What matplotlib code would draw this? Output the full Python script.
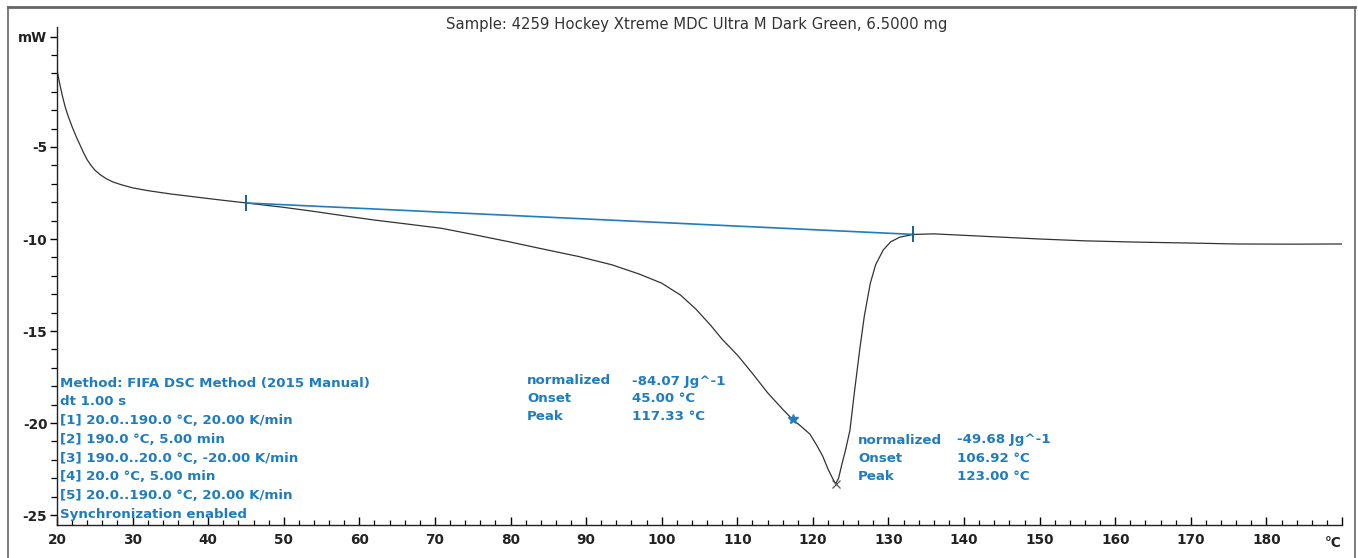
import matplotlib
matplotlib.use("Agg")
import matplotlib.pyplot as plt
from matplotlib.lines import Line2D

# ---- data ----
temperature = [20, 20.3, 20.7, 21.1, 21.5, 22.0, 22.5, 23.0, 23.5, 24.0, 24.5, 25.0, 25.7, 26.5,
               27.4, 28.5, 30, 32, 35, 38, 41,
               45, 50, 54, 58, 62, 66, 70.9, 75, 79.8, 84, 89, 93.4, 97, 100, 102.5, 104.5,
               106.5, 108, 110, 112, 114, 116, 117.3, 118.5, 119.6, 120.5, 121.3, 122, 122.6,
               123, 123.4, 123.8, 124.3, 124.9, 125.5, 126.2, 126.8, 127.6, 128.3, 129.3,
               130.3, 131.5, 133.3, 136, 140, 145, 150, 156, 163, 170, 176, 183, 190]
heat_flow = [-0.8, -1.45, -2.2, -2.85, -3.35, -3.9, -4.4, -4.85, -5.3, -5.7, -6.0, -6.25, -6.5,
             -6.72, -6.9, -7.05, -7.22, -7.37, -7.55, -7.7, -7.85,
             -8.04, -8.28, -8.5, -8.74, -8.97, -9.17, -9.42,
             -9.75, -10.15, -10.52, -10.95, -11.4, -11.9, -12.4, -13.05, -13.8, -14.7, -15.45,
             -16.3, -17.3, -18.35, -19.25, -19.8, -20.2, -20.6, -21.2, -21.8, -22.5, -23.0,
             -23.3, -23.0, -22.3, -21.5, -20.4, -18.3, -16.0, -14.2, -12.4, -11.4, -10.6,
             -10.15, -9.9, -9.75, -9.72, -9.8, -9.9, -10.0, -10.1, -10.17, -10.22, -10.27,
             -10.28, -10.27]

baseline_T = [45.0, 133.3]
baseline_mW = [-8.04, -9.75]
shoulder_point = (117.33, -19.8)
peak_point = (123.0, -23.3)

x_major = [20, 30, 40, 50, 60, 70, 80, 90, 100, 110, 120, 130, 140, 150, 160, 170, 180]
y_major = [-5, -10, -15, -20, -25]

title = "Sample: 4259 Hockey Xtreme MDC Ultra M Dark Green, 6.5000 mg"
method_lines = ["Method: FIFA DSC Method (2015 Manual)", "dt 1.00 s",
                "[1] 20.0..190.0 \u00b0C, 20.00 K/min", "[2] 190.0 \u00b0C, 5.00 min",
                "[3] 190.0..20.0 \u00b0C, -20.00 K/min", "[4] 20.0 \u00b0C, 5.00 min",
                "[5] 20.0..190.0 \u00b0C, 20.00 K/min", "Synchronization enabled"]
res1_labels = ["normalized", "Onset", "Peak"]
res1_values = ["-84.07 Jg^-1", "45.00 \u00b0C", "117.33 \u00b0C"]
res2_labels = ["normalized", "Onset", "Peak"]
res2_values = ["-49.68 Jg^-1", "106.92 \u00b0C", "123.00 \u00b0C"]

BLUE = "#1f7dbf"
W, H = 1358, 558
fig = plt.figure(figsize=(W / 100, H / 100), dpi=100)

# outer frame
for xs, ys, lw in [([8, 1355], [7, 7], 2.0), ([8, 8], [7, 558], 1.2), ([1355, 1355], [7, 558], 1.2)]:
    fig.add_artist(Line2D([x / W for x in xs], [1 - y / H for y in ys],
                          transform=fig.transFigure, color="#666666", lw=lw))

ax_left, ax_right, ax_top, ax_bottom = 57, 1342, 27, 525
ax = fig.add_axes([ax_left / W, 1 - ax_bottom / H, (ax_right - ax_left) / W, (ax_bottom - ax_top) / H])

ax.plot(temperature, heat_flow, color="#333333", lw=0.9)
ax.plot(baseline_T, baseline_mW, color=BLUE, lw=1.2)
ax.plot(baseline_T, baseline_mW, ls="none", marker="|", color="#1a5f94", ms=11, mew=1.4)
ax.plot([shoulder_point[0]], [shoulder_point[1]], marker="*", color=BLUE, ms=7, ls="none")
ax.plot([peak_point[0]], [peak_point[1]], marker="x", color="#555555", ms=6, mew=0.9, ls="none")

ax.set_xlim(20, 190)
ax.set_ylim(-25.54, 1.52)
for s in ["top", "right"]:
    ax.spines[s].set_visible(False)
for s in ["left", "bottom"]:
    ax.spines[s].set_color("#222222")
    ax.spines[s].set_linewidth(1.0)

ax.set_xticks(x_major + [190])
ax.set_xticklabels([str(v) for v in x_major] + [""])
ax.set_xticks(list(range(20, 191, 2)), minor=True)
ax.tick_params(axis="x", which="major", direction="in", length=6, width=1, pad=6, labelsize=9.8)
ax.tick_params(axis="x", which="minor", direction="in", length=3.5, width=0.9)

ax.set_yticks(y_major + [1])
ax.set_yticklabels([str(v) for v in y_major] + ["mW"])
ax.set_yticks(list(range(-25, 2)), minor=True)
ax.tick_params(axis="y", which="major", direction="out", length=5, width=1, pad=2, labelsize=9.8)
ax.tick_params(axis="y", which="minor", direction="out", length=4, width=0.9)
for lab in ax.get_xticklabels() + ax.get_yticklabels():
    lab.set_fontweight("bold")
    lab.set_color("#222222")

fig.text(1333 / W, 1 - 543 / H, "\u00b0C", ha="center", va="center", fontsize=9.8,
         fontweight="bold", color="#222222")

fig.text(697 / W, 1 - 25 / H, title, ha="center", va="center", fontsize=10.7, color="#333333")

for i, line in enumerate(method_lines):
    fig.text(60 / W, 1 - (383 + i * 18.8) / H, line, ha="left", va="center",
             fontsize=9.6, fontweight="bold", color=BLUE)

for i, (lab, val) in enumerate(zip(res1_labels, res1_values)):
    y = 1 - (381 + i * 18) / H
    fig.text(527 / W, y, lab, ha="left", va="center", fontsize=9.6, fontweight="bold", color=BLUE)
    fig.text(632 / W, y, val, ha="left", va="center", fontsize=9.6, fontweight="bold", color=BLUE)

for i, (lab, val) in enumerate(zip(res2_labels, res2_values)):
    y = 1 - (440 + i * 18.5) / H
    fig.text(858 / W, y, lab, ha="left", va="center", fontsize=9.6, fontweight="bold", color=BLUE)
    fig.text(957 / W, y, val, ha="left", va="center", fontsize=9.6, fontweight="bold", color=BLUE)

fig.savefig("out.png", dpi=100)
